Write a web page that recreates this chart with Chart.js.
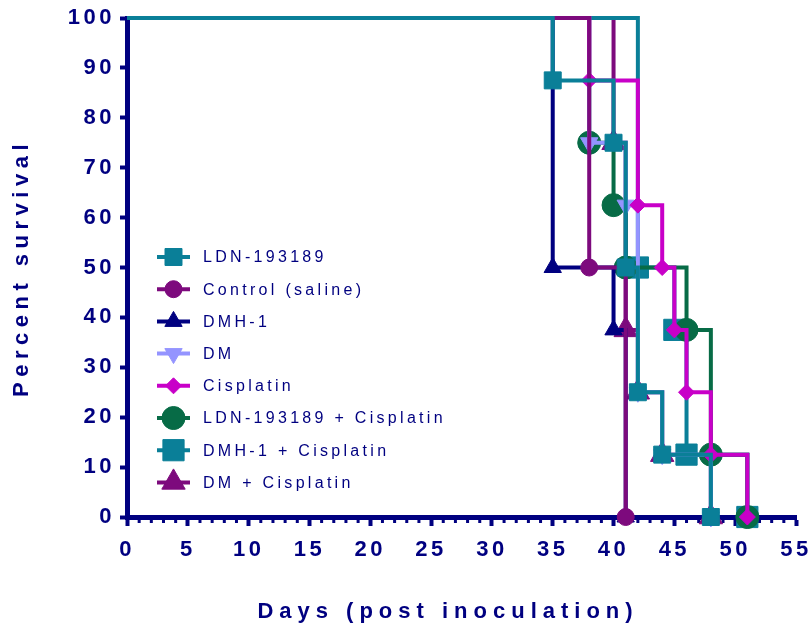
<!DOCTYPE html>
<html lang="en">
<head>
<meta charset="utf-8">
<title>Percent survival</title>
<style>
html, body { margin: 0; padding: 0; background: #fff; }
#wrap { width: 812px; height: 630px; }
</style>
</head>
<body>
<div id="wrap"><canvas id="canvas" width="812" height="630"></canvas></div>

<script src="https://cdn.jsdelivr.net/npm/chart.js"></script>
<script>
// survival steps: day of each event and percent still alive after it
const ldnDays = [0, 35, 40, 41, 42, 44, 48];
const ldnSurv = [100, 87.5, 75, 50, 25, 12.5, 0];
const controlDays = [0, 38, 41];
const controlSurv = [100, 50, 0];
const dmh1Days = [0, 35, 40, 41];
const dmh1Surv = [100, 50, 37.5, 0];
const dmDays = [0, 38, 41, 42, 44, 48];
const dmSurv = [100, 75, 62.5, 25, 12.5, 0];
const cisDays = [0, 38, 42, 44, 45, 46, 48, 51];
const cisSurv = [100, 87.5, 62.5, 50, 37.5, 25, 12.5, 0];
const ldnCisDays = [0, 38, 40, 41, 46, 48, 51];
const ldnCisSurv = [100, 75, 62.5, 50, 37.5, 12.5, 0];
const dmh1CisDays = [0, 42, 45, 46, 51];
const dmh1CisSurv = [100, 50, 37.5, 12.5, 0];
const dmCisDays = [0, 40, 41, 42, 44, 48];
const dmCisSurv = [100, 75, 37.5, 25, 12.5, 0];

const groupNames = ['LDN-193189', 'Control (saline)', 'DMH-1', 'DM', 'Cisplatin',
  'LDN-193189 + Cisplatin', 'DMH-1 + Cisplatin', 'DM + Cisplatin'];
const xTickValues = [0, 5, 10, 15, 20, 25, 30, 35, 40, 45, 50, 55];
const yTickValues = [0, 10, 20, 30, 40, 50, 60, 70, 80, 90, 100];

const NAVY = '#000080';
const FONT = 'Arial, "Liberation Sans", sans-serif';

// look of each group; z = drawing order (lower is on top)
const looks = [
  {color: '#0a7f98', shape: 'rect', r: 12, rot: 0, z: 0},
  {color: '#7d0a7d', shape: 'circle', r: 8.5, rot: 0, z: 1},
  {color: '#000080', shape: 'triangle', r: 10, rot: 0, z: 2},
  {color: '#9494ff', shape: 'triangle', r: 10, rot: 180, z: 4},
  {color: '#c800c8', shape: 'rectRot', r: 8, rot: 0, z: 3},
  {color: '#076b46', shape: 'circle', r: 11.5, rot: 0, z: 5},
  {color: '#0a7f98', shape: 'rect', r: 15, rot: 0, z: 6},
  {color: '#7d0a7d', shape: 'triangle', r: 13.5, rot: 0, z: 7}
];

const allDays = [ldnDays, controlDays, dmh1Days, dmDays, cisDays, ldnCisDays, dmh1CisDays, dmCisDays];
const allSurv = [ldnSurv, controlSurv, dmh1Surv, dmSurv, cisSurv, ldnCisSurv, dmh1CisSurv, dmCisSurv];

const datasets = groupNames.map((name, i) => {
  const lk = looks[i];
  return {
    label: name,
    data: allDays[i].map((d, j) => ({x: d, y: allSurv[i][j]})),
    stepped: 'before',
    borderColor: lk.color,
    backgroundColor: lk.color,
    borderWidth: 4,
    pointStyle: lk.shape,
    pointRotation: lk.rot,
    pointRadius: c => c.dataIndex === 0 ? 0 : lk.r,
    pointBorderWidth: 1,
    pointBorderColor: lk.color,
    pointBackgroundColor: lk.color,
    order: lk.z,
    clip: false
  };
});

// minor day ticks, titles and the legend box
const extras = {
  id: 'extras',
  beforeDraw(chart) {
    chart.ctx.letterSpacing = '3.5px';
  },
  beforeDatasetsDraw(chart) {
    const ctx = chart.ctx, xs = chart.scales.x, bottom = chart.chartArea.bottom;
    ctx.save();
    ctx.fillStyle = NAVY;
    for (let d = 0; d <= 55; d++) {
      if (d % 5 === 0) continue;
      const px = xs.getPixelForValue(d);
      ctx.fillRect(px - 1.5, bottom, 3, 6);
    }
    ctx.restore();
  },
  afterDraw(chart) {
    const ctx = chart.ctx;
    ctx.save();
    ctx.fillStyle = NAVY;
    ctx.font = 'bold 22px ' + FONT;
    ctx.letterSpacing = '6px';
    ctx.textAlign = 'center';
    ctx.textBaseline = 'middle';
    ctx.fillText('Days (post inoculation)', 448, 612);
    ctx.letterSpacing = '5.5px';
    ctx.translate(22, 268);
    ctx.rotate(-Math.PI / 2);
    ctx.fillText('Percent survival', 0, 0);
    ctx.restore();

    // legend
    ctx.save();
    ctx.font = '16px ' + FONT;
    ctx.letterSpacing = '3.3px';
    ctx.textBaseline = 'middle';
    ctx.textAlign = 'left';
    chart.data.datasets.forEach((ds, i) => {
      const y = 257 + i * 32.2;
      const lk = looks[i];
      ctx.strokeStyle = lk.color;
      ctx.fillStyle = lk.color;
      ctx.lineWidth = 4;
      ctx.beginPath();
      ctx.moveTo(157, y);
      ctx.lineTo(190, y);
      ctx.stroke();
      ctx.lineWidth = 1;
      Chart.helpers.drawPoint(ctx, {pointStyle: lk.shape, rotation: lk.rot, radius: lk.r, borderWidth: 1}, 173.5, y);
      ctx.fillStyle = NAVY;
      ctx.fillText(ds.label, 203, y + 1);
    });
    ctx.restore();
  }
};

const ctx = document.getElementById('canvas').getContext('2d');
const mychart = new Chart(ctx, {
  type: 'line',
  data: {datasets: datasets},
  plugins: [extras],
  options: {
    responsive: false,
    animation: false,
    devicePixelRatio: 1,
    layout: {padding: {left: 0, right: 15, top: 18, bottom: 0}},
    plugins: {legend: {display: false}, tooltip: {enabled: false}},
    scales: {
      x: {
        type: 'linear',
        min: 0,
        max: 55,
        afterBuildTicks: s => { s.ticks = xTickValues.map(v => ({value: v})); },
        ticks: {color: NAVY, font: {family: FONT, size: 22, weight: 'bold'}, padding: 11, maxRotation: 0, autoSkip: false},
        grid: {display: true, drawOnChartArea: false, drawTicks: true, tickLength: 9, tickWidth: 4, tickColor: NAVY},
        border: {display: true, color: NAVY, width: 5},
        afterFit: s => { s.height = 630 - 517; s.paddingLeft = 0; s.paddingRight = 0; }
      },
      y: {
        type: 'linear',
        min: 0,
        max: 100,
        afterBuildTicks: s => { s.ticks = yTickValues.map(v => ({value: v})); },
        ticks: {color: NAVY, font: {family: FONT, size: 22, weight: 'bold'}, padding: 5},
        grid: {display: true, drawOnChartArea: false, drawTicks: true, tickLength: 7, tickWidth: 4, tickColor: NAVY},
        border: {display: true, color: NAVY, width: 5},
        afterFit: s => { s.width = 127; s.paddingTop = 0; s.paddingBottom = 0; }
      }
    }
  }
});
</script>
</body>
</html>
